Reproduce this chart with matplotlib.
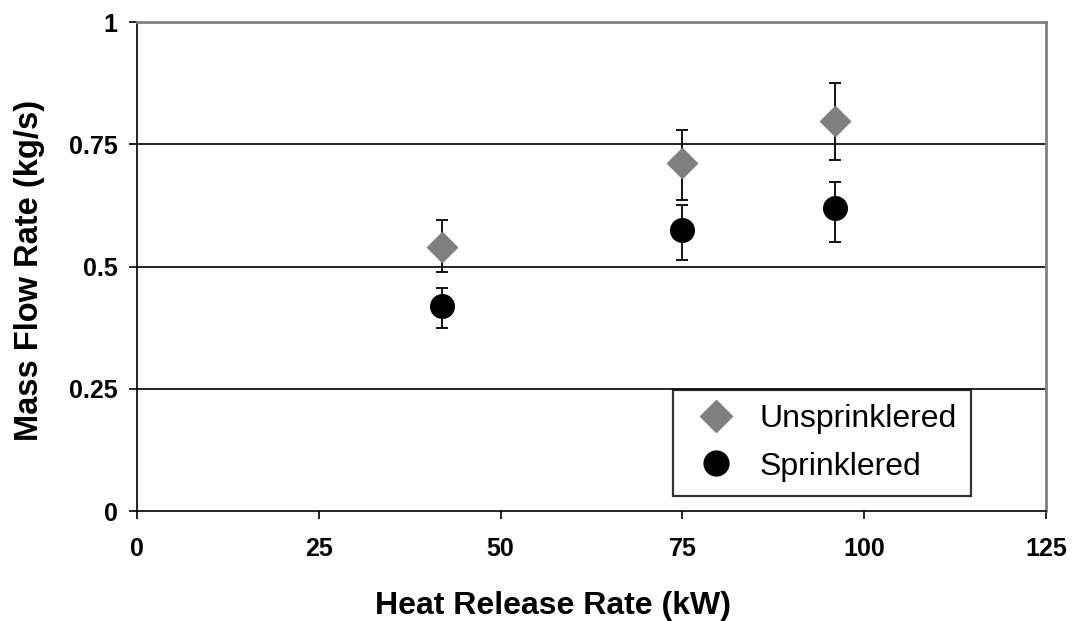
import matplotlib.pyplot as plt

plt.rcParams['font.family'] = ['Liberation Sans', 'DejaVu Sans']

# Data
hrr = [42, 75, 96]
unspr = [0.540, 0.711, 0.798]
unspr_lo = [0.051, 0.074, 0.081]
unspr_hi = [0.055, 0.069, 0.078]
spr = [0.420, 0.575, 0.619]
spr_lo = [0.046, 0.062, 0.068]
spr_hi = [0.036, 0.051, 0.054]

xticks = [0, 25, 50, 75, 100, 125]
yticks = [0, 0.25, 0.5, 0.75, 1]
ylabels = ["0", "0.25", "0.5", "0.75", "1"]

fig = plt.figure(figsize=(10.79, 6.21), dpi=100)
ax = fig.add_axes([0.127, 0.177, 0.8425, 0.7874])

# horizontal gridlines
for y in yticks[1:-1]:
    ax.axhline(y, color="black", lw=1.2, zorder=1)

ax.errorbar(hrr, unspr, yerr=[unspr_lo, unspr_hi], fmt="D", color="#808080",
            ms=15.5, mec="#808080", ecolor="black", elinewidth=1.3, capsize=4.5,
            capthick=1.3, label="Unsprinklered", zorder=3)
ax.errorbar(hrr, spr, yerr=[spr_lo, spr_hi], fmt="o", color="black",
            ms=17, ecolor="black", elinewidth=1.3, capsize=4.5,
            capthick=1.3, label="Sprinklered", zorder=3)

ax.set_xlim(0, 125)
ax.set_ylim(0, 1)
ax.set_xticks(xticks)
ax.set_yticks(yticks)
ax.set_yticklabels(ylabels)
ax.tick_params(direction="out", length=6, width=1.2, labelsize=18)
ax.tick_params(axis="x", pad=13)
ax.tick_params(axis="y", pad=8)
for lab in ax.get_xticklabels() + ax.get_yticklabels():
    lab.set_fontweight("bold")

ax.spines["left"].set_color("black")
ax.spines["bottom"].set_color("black")
ax.spines["left"].set_linewidth(1.2)
ax.spines["bottom"].set_linewidth(1.2)
ax.spines["top"].set_color("#808080")
ax.spines["right"].set_color("#808080")
ax.spines["top"].set_linewidth(2)
ax.spines["right"].set_linewidth(2)

ax.set_xlabel("Heat Release Rate (kW)", fontsize=23, fontweight="bold",
              labelpad=21, x=0.458)
ax.set_ylabel("Mass Flow Rate (kg/s)", fontsize=23.5, fontweight="bold",
              labelpad=17, y=0.493)

handles, labels = ax.get_legend_handles_labels()
handles = [h[0] for h in handles]
leg = ax.legend(handles, labels, loc="lower right", bbox_to_anchor=(0.9175, 0.031),
                borderaxespad=0, fontsize=23, frameon=True, fancybox=False,
                edgecolor="black", handletextpad=0.45, borderpad=0.45,
                labelspacing=0.55, handlelength=1.8, markerscale=1.05)
leg.get_frame().set_linewidth(1.6)
leg.set_zorder(5)

plt.savefig("out.png", dpi=100)
